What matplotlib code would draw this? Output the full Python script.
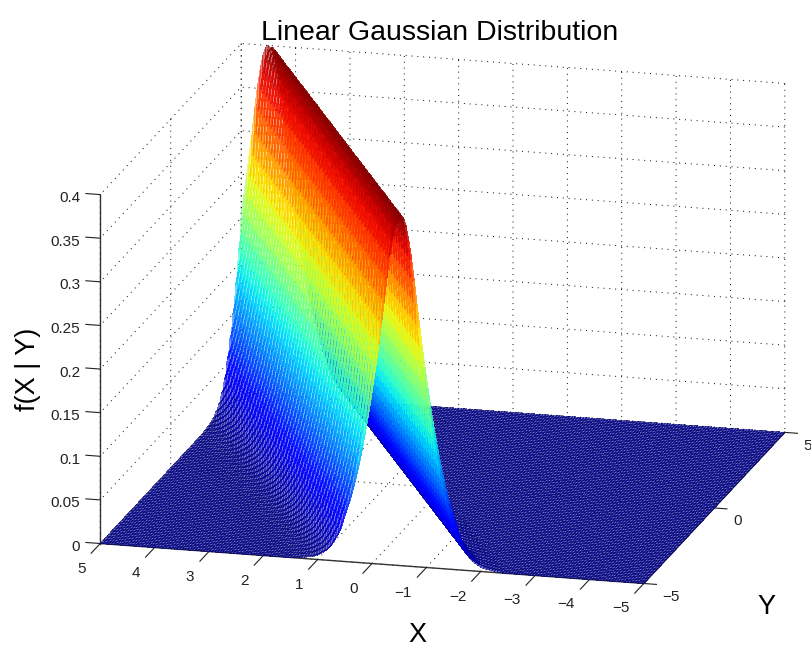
import numpy as np
import matplotlib
matplotlib.use('Agg')
import matplotlib.pyplot as plt
from matplotlib.transforms import Affine2D

plt.rcParams['font.family'] = ['Liberation Sans', 'DejaVu Sans']

profile = [0.400, 0.397, 0.388, 0.372, 0.352, 0.327, 0.300, 0.275, 0.250, 0.227, 0.205,
           0.184, 0.165, 0.147, 0.130, 0.114, 0.100, 0.087, 0.075, 0.065, 0.055,
           0.045, 0.035, 0.029, 0.023, 0.018, 0.014, 0.011, 0.009, 0.007, 0.005,
           0.004, 0.003, 0.0025, 0.002, 0.0015, 0.001, 0.0005, 0.000, 0.000, 0.000]
x_vals = np.arange(-100, 101) / 20
y_vals = np.arange(-50, 51) / 10
crest_first = 90  # crest is at X=-0.5 on the row Y=-5
crest_stair = 2   # crest moves by this many X steps every this many Y steps, gives the jagged look

x_ticks = [-5, -4, -3, -2, -1, 0, 1, 2, 3, 4, 5]
y_ticks = [-5, 0, 5]
z_ticks = [0, 0.05, 0.1, 0.15, 0.2, 0.25, 0.3, 0.35, 0.4]
z_labels = ['0', '0.05', '0.1', '0.15', '0.2', '0.25', '0.3', '0.35', '0.4']

Z = np.zeros((len(y_vals), len(x_vals)))
for i in range(len(y_vals)):
    crest = crest_first + i // crest_stair * crest_stair
    for j in range(len(x_vals)):
        k = abs(j - crest)
        if k < len(profile):
            Z[i, j] = profile[k]
X, Y = np.meshgrid(x_vals, y_vals)


def shift_ticklabels(axis, dx, dy):
    # Axis3D resets the label transform every draw, so add the pixel shift there
    orig = axis.get_major_ticks

    def patched(numticks=None):
        ticks = orig(numticks)
        for t in ticks:
            t.label1.set_transform(axis.axes.transData + Affine2D().translate(dx, dy))
        return ticks
    axis.get_major_ticks = patched


fig = plt.figure(figsize=(8.12, 6.54), dpi=100)
ax = fig.add_axes([-71 / 812, -173 / 654, 1000 / 812, 1000 / 654], projection='3d', proj_type='ortho')
ax.patch.set_alpha(0)
ax.view_init(elev=16.3, azim=-75.32)
ax.set_box_aspect((562, 556.6, 363.6), zoom=0.845)

# no antialiasing: the small cells overlap a little, that makes the speckled floor
ax.plot_surface(X, Y, Z, cmap='jet', vmin=0, vmax=0.4, rstride=1, cstride=1, alpha=0.58,
                shade=False, linewidth=0, antialiased=False)

ax.set_xlim(5, -5, view_margin=0)
ax.set_ylim(-5, 5, view_margin=0)
ax.set_zlim(0, 0.4, view_margin=0)
ax.set_xticks(x_ticks)
ax.set_yticks(y_ticks)
ax.set_zticks(z_ticks)
ax.set_zticklabels(z_labels, ha='right')
plt.setp(ax.get_xticklabels(), ha='right')
plt.setp(ax.get_yticklabels(), ha='left')

# z axis goes on the left front corner, ticks along X
ax.zaxis._get_axis_line_edge_points = lambda minmax, maxmin, position=None: (
    np.array([5.0, -5.0, 0.0]), np.array([5.0, -5.0, 0.4]))
ax.zaxis._get_tickdir = lambda position: 0

for axis in [ax.xaxis, ax.yaxis, ax.zaxis]:
    axis.set_pane_color((1, 1, 1, 0))
    axis.pane.set_edgecolor((1, 1, 1, 0))
    axis.line.set_color('#333333')
    axis.line.set_linewidth(1.0)
    axis._axinfo['grid'].update(color='k', linewidth=0.7, linestyle=(0, (1, 5)))
    axis.set_tick_params(labelsize=11, colors='#222222', pad=4)
ax.xaxis._axinfo['tick'].update(inward_factor=0.8, outward_factor=0, linewidth={True: 0.8, False: 0.8})
ax.yaxis._axinfo['tick'].update(inward_factor=0.29, outward_factor=0, linewidth={True: 0.8, False: 0.8})
ax.zaxis._axinfo['tick'].update(inward_factor=0, outward_factor=0.33, linewidth={True: 0.8, False: 0.8})

shift_ticklabels(ax.xaxis, -10, -2)
shift_ticklabels(ax.yaxis, 1.5, 6)
shift_ticklabels(ax.zaxis, 2, 7)

ax.set_title('Linear Gaussian Distribution', fontsize=20.5, x=0.511, y=0.855, pad=0)
fig.text(417 / 812, 1 - 635 / 654, 'X', fontsize=19.5, ha='center', va='center')
fig.text(766 / 812, 1 - 607 / 654, 'Y', fontsize=19.5, ha='center', va='center')
fig.text(28 / 812, 1 - 369 / 654, 'f(X | Y)', fontsize=19.5, ha='center', va='center', rotation=90)

fig.savefig('out.png', dpi=100)
